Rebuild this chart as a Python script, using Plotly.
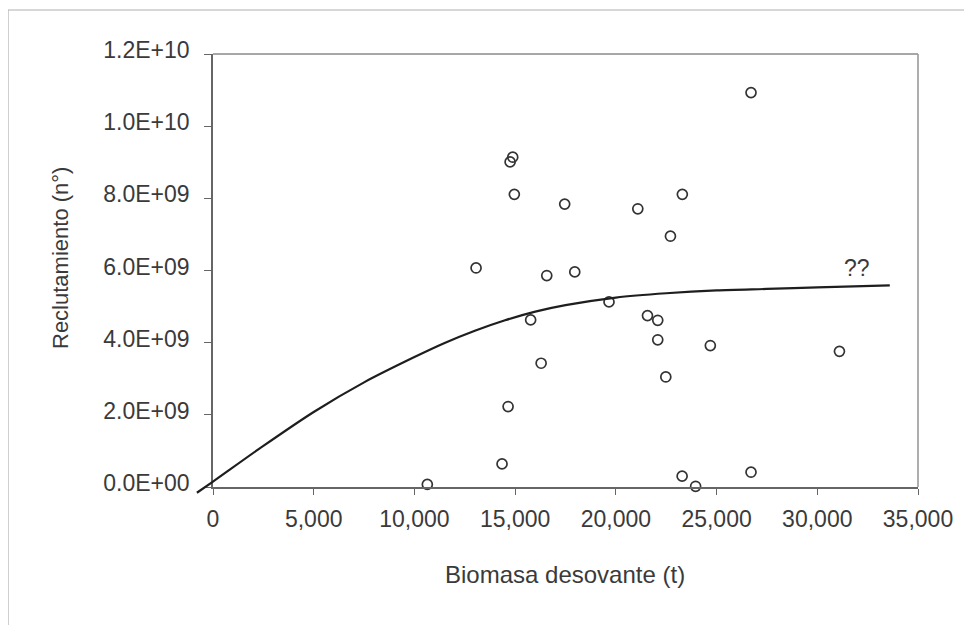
import plotly.graph_objects as go

# Observed data (spawning biomass in t, recruitment in number)
biomasa = [14880, 14750, 14960, 17460, 21090, 23300, 22710, 13060, 16570, 17960,
           19660, 15770, 21570, 22080, 22080, 22480, 16290, 14650, 14350, 10640,
           23290, 23960, 24690, 31100, 26710, 26710]
reclut_e9 = [9.14, 9.01, 8.11, 7.84, 7.71, 8.11, 6.95, 6.07, 5.86, 5.96,
             5.13, 4.63, 4.75, 4.62, 4.08, 3.05, 3.43, 2.23, 0.64, 0.07,
             0.30, 0.02, 3.92, 3.76, 0.41, 10.93]
reclut = [v * 1e9 for v in reclut_e9]

# Fitted stock-recruitment curve
curva_s = [-800, 0, 2500, 5000, 7500, 10000, 11500, 13000, 14500, 16000,
           17500, 20000, 22500, 25000, 27500, 30000, 33600]
curva_r_e9 = [-0.16, 0.15, 1.14, 2.08, 2.90, 3.60, 3.99, 4.33, 4.62, 4.86,
              5.04, 5.25, 5.37, 5.45, 5.49, 5.53, 5.59]
curva_r = [v * 1e9 for v in curva_r_e9]

x_ticks = [0, 5000, 10000, 15000, 20000, 25000, 30000, 35000]
x_ticktext = ["0", "5,000", "10,000", "15,000", "20,000", "25,000", "30,000", "35,000"]
y_ticks = [0, 2e9, 4e9, 6e9, 8e9, 1e10, 1.2e10]
y_ticktext = ["0.0E+00", "2.0E+09", "4.0E+09", "6.0E+09", "8.0E+09", "1.0E+10", "1.2E+10"]

# page has an 8px body margin: design in page pixels, convert to figure pixels
OFF = 8
W, H = 964, 617
ml, mr, mt, mb = 175, 54, 46, 128
pw = W - ml - mr
ph = H - mt - mb
x_extra_px = 30
y_extra_px = 10
xmax = 35000
ymax = 1.2e10
px_per_x = (pw - x_extra_px) / xmax
px_per_y = (ph - y_extra_px) / ymax

FONT = "Liberation Sans, Arial, sans-serif"
TXT = "#3a3a3a"

fig = go.Figure()

# curve on an auxiliary, larger subplot so it can run slightly past the axes
fig.add_trace(go.Scatter(
    x=curva_s, y=curva_r, mode="lines",
    line=dict(color="#1e1e1e", width=2.2, shape="spline", smoothing=0.8),
    xaxis="x2", yaxis="y2", showlegend=False, hoverinfo="skip"))

fig.add_trace(go.Scatter(
    x=biomasa, y=reclut, mode="markers",
    marker=dict(symbol="circle-open", size=10, color="#333333",
                line=dict(width=1.7, color="#333333")),
    showlegend=False, cliponaxis=False))

fig.update_layout(
    width=W, height=H,
    margin=dict(l=ml, r=mr, t=mt, b=mb),
    paper_bgcolor="white", plot_bgcolor="rgba(0,0,0,0)",
    font=dict(family=FONT, size=22, color=TXT),
    xaxis=dict(
        domain=[x_extra_px / pw, 1], range=[0, xmax],
        tickvals=x_ticks, ticktext=x_ticktext,
        ticks="outside", ticklen=6, tickcolor="#666666", tickwidth=1.2,
        showline=True, linecolor="#666666", linewidth=1.6,
        showgrid=False, zeroline=False,
        tickfont=dict(size=23, color=TXT, family=FONT),
        ticklabelstandoff=5,
    ),
    yaxis=dict(
        domain=[y_extra_px / ph, 1], range=[0, ymax],
        tickvals=y_ticks, ticktext=y_ticktext,
        ticks="outside", ticklen=7, tickcolor="#666666", tickwidth=1.2,
        showline=True, linecolor="#666666", linewidth=1.6,
        showgrid=False, zeroline=False,
        tickfont=dict(size=23, color=TXT, family=FONT),
        ticklabelstandoff=10, ticklabelshift=-4,
    ),
    xaxis2=dict(
        domain=[0, 1], range=[-x_extra_px / px_per_x, xmax],
        visible=False, anchor="y2",
    ),
    yaxis2=dict(
        domain=[0, 1], range=[-y_extra_px / px_per_y, ymax],
        visible=False, anchor="x2",
    ),
)

def px_to_paper_x(p):
    return (p - OFF - ml) / pw

def px_to_paper_y(p):
    return (H - mb - (p - OFF)) / ph

fig.add_annotation(
    text="Reclutamiento (n°)", textangle=-90,
    xref="paper", yref="paper", x=px_to_paper_x(60), y=px_to_paper_y(258),
    xanchor="center", yanchor="middle", showarrow=False,
    font=dict(size=22, color=TXT, family=FONT))
fig.add_annotation(
    text="Biomasa desovante (t)",
    xref="paper", yref="paper", x=px_to_paper_x(565), y=px_to_paper_y(574),
    xanchor="center", yanchor="middle", showarrow=False,
    font=dict(size=24, color=TXT, family=FONT))
fig.add_annotation(
    text="??", xref="x", yref="y", x=31980, y=6.07e9,
    xanchor="center", yanchor="middle", showarrow=False,
    font=dict(size=23, color=TXT, family=FONT))

# top and right frame lines of the plot area (lighter)
fig.add_shape(type="line", xref="x domain", yref="y domain",
              x0=0, x1=1, y0=1, y1=1, line=dict(color="#8a8a8a", width=1.6))
fig.add_shape(type="line", xref="x domain", yref="y domain",
              x0=1, x1=1, y0=0, y1=1, line=dict(color="#9a9a9a", width=1.6))
# outer chart border
fig.add_shape(type="rect", xref="paper", yref="paper",
              x0=px_to_paper_x(8), x1=px_to_paper_x(990),
              y0=px_to_paper_y(650), y1=px_to_paper_y(10),
              line=dict(color="#b0b0b0", width=1.2))

fig.write_html("out.html")
